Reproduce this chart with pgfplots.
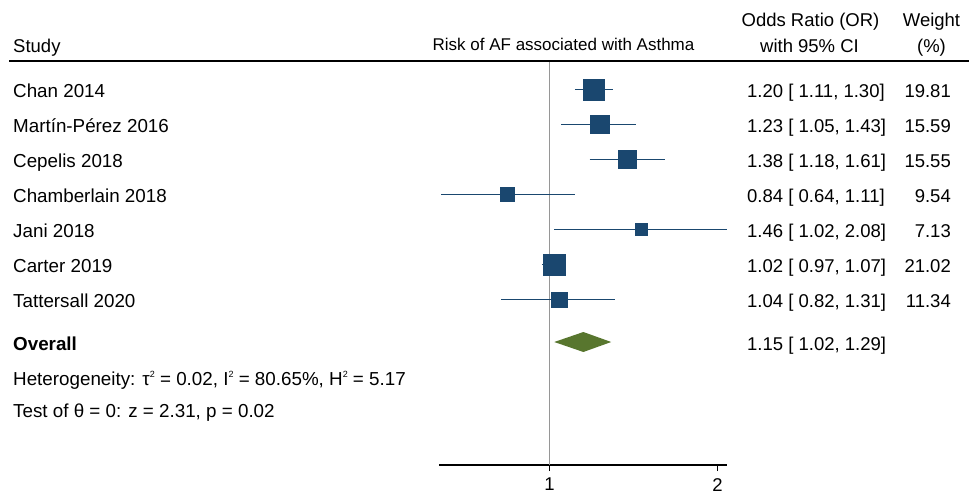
\documentclass[border=0pt]{standalone}
\usepackage{pgfplots}
\pgfplotsset{compat=1.18}
\usepackage{fontspec}
\setmainfont{Liberation Sans}
\definecolor{snavy}{RGB}{26,71,111}
\definecolor{sgreen}{RGB}{88,118,46}
\definecolor{refgray}{RGB}{150,150,150}
\newcommand{\sqr}{\raisebox{8pt}{\fontsize{9}{9}\selectfont 2}}
\begin{document}
\fontsize{18.5}{22}\selectfont
\begin{tikzpicture}[x=1pt,y=1pt]
\useasboundingbox (0,0) rectangle (969,-495);
\begin{axis}[
  at={(439pt,-465pt)}, anchor=south west,
  scale only axis, width=288pt, height=404pt,
  xmode=log, xmin=0.634, xmax=2.08,
  ymin=-465, ymax=-61,
  axis x line*=bottom, axis y line=none,
  axis line style={-, line width=1.2pt, black},
  xtick={1,2}, xticklabels={1,2}, minor xtick={},
  tick align=outside, major tick length=6pt,
  tick style={line width=1pt, black},
  xticklabel style={font=\fontsize{18.5}{22}\selectfont, anchor=north, inner sep=0pt, yshift=-7pt},
  /pgf/number format/assume math mode=true,
  clip=false,
]
% reference line
\addplot[refgray, line width=1pt] coordinates {(1,-61) (1,-465)};
% confidence intervals
\addplot[snavy, line width=1.8pt] coordinates {(1.11,-89.5) (1.30,-89.5)};
\addplot[snavy, line width=1.8pt] coordinates {(1.05,-124.5) (1.43,-124.5)};
\addplot[snavy, line width=1.8pt] coordinates {(1.18,-159.5) (1.61,-159.5)};
\addplot[snavy, line width=1.8pt] coordinates {(0.64,-194.5) (1.11,-194.5)};
\addplot[snavy, line width=1.8pt] coordinates {(1.02,-229.5) (2.08,-229.5)};
\addplot[snavy, line width=1.8pt] coordinates {(0.97,-264.5) (1.07,-264.5)};
\addplot[snavy, line width=1.8pt] coordinates {(0.82,-299.5) (1.31,-299.5)};
% study markers (area proportional to weight)
\addplot[only marks, color=snavy, mark=square*, mark size=10.3pt, mark options={line width=0.4pt}] coordinates {(1.20,-89.5)};
\addplot[only marks, color=snavy, mark=square*, mark size=9.1pt, mark options={line width=0.4pt}] coordinates {(1.23,-124.5)};
\addplot[only marks, color=snavy, mark=square*, mark size=9.1pt, mark options={line width=0.4pt}] coordinates {(1.38,-159.5)};
\addplot[only marks, color=snavy, mark=square*, mark size=7.1pt, mark options={line width=0.4pt}] coordinates {(0.84,-194.5)};
\addplot[only marks, color=snavy, mark=square*, mark size=6.1pt, mark options={line width=0.4pt}] coordinates {(1.46,-229.5)};
\addplot[only marks, color=snavy, mark=square*, mark size=10.6pt, mark options={line width=0.4pt}] coordinates {(1.02,-264.5)};
\addplot[only marks, color=snavy, mark=square*, mark size=7.75pt, mark options={line width=0.4pt}] coordinates {(1.04,-299.5)};
% overall diamond
\addplot[fill=sgreen, draw=none] coordinates {(1.02,-342) (1.15,-332) (1.29,-342) (1.15,-352)} -- cycle;
\end{axis}
% header
\draw[line width=1.3pt] (9,-61) -- (969,-61);
\begin{scope}[every node/.style={inner sep=0pt}]
\node[anchor=base west] at (13,-52.5) {Study};
\node[anchor=base, font=\fontsize{17}{20}\selectfont] at (563.5,-51) {Risk of AF associated with Asthma};
\node[anchor=base] at (810.5,-26.5) {Odds Ratio (OR)};
\node[anchor=base] at (809.5,-52.5) {with 95\% CI};
\node[anchor=base] at (931.5,-26.5) {Weight};
\node[anchor=base] at (931.5,-52.5) {(\%)};
% study rows
\begin{scope}[font=\fontsize{18.8}{22}\selectfont]
\node[anchor=base west] at (13,-97.5) {Chan 2014};
\node[anchor=base west] at (13,-132.5) {Martín-Pérez 2016};
\node[anchor=base west] at (13,-167.5) {Cepelis 2018};
\node[anchor=base west] at (13,-202.5) {Chamberlain 2018};
\node[anchor=base west] at (13,-237.5) {Jani 2018};
\node[anchor=base west] at (13,-272.5) {Carter 2019};
\node[anchor=base west] at (13,-307.5) {Tattersall 2020};
\node[anchor=base west] at (13,-350.5) {\bfseries Overall};
\node[anchor=base west] at (13,-385) {Heterogeneity: τ\sqr{} = 0.02, I\sqr{} = 80.65\%, H\sqr{} = 5.17};
\node[anchor=base west] at (13,-417) {Test of θ = 0: z = 2.31, p = 0.02};
\end{scope}
% effect sizes
\node[anchor=base west] at (747,-97.5) {1.20 [ 1.11, 1.30]};
\node[anchor=base west] at (747,-132.5) {1.23 [ 1.05, 1.43]};
\node[anchor=base west] at (747,-167.5) {1.38 [ 1.18, 1.61]};
\node[anchor=base west] at (747,-202.5) {0.84 [ 0.64, 1.11]};
\node[anchor=base west] at (747,-237.5) {1.46 [ 1.02, 2.08]};
\node[anchor=base west] at (747,-272.5) {1.02 [ 0.97, 1.07]};
\node[anchor=base west] at (747,-307.5) {1.04 [ 0.82, 1.31]};
\node[anchor=base west] at (747,-350.5) {1.15 [ 1.02, 1.29]};
% weights
\node[anchor=base east] at (951,-97.5) {19.81};
\node[anchor=base east] at (951,-132.5) {15.59};
\node[anchor=base east] at (951,-167.5) {15.55};
\node[anchor=base east] at (951,-202.5) {9.54};
\node[anchor=base east] at (951,-237.5) {7.13};
\node[anchor=base east] at (951,-272.5) {21.02};
\node[anchor=base east] at (951,-307.5) {11.34};
\end{scope}
\end{tikzpicture}
\end{document}
